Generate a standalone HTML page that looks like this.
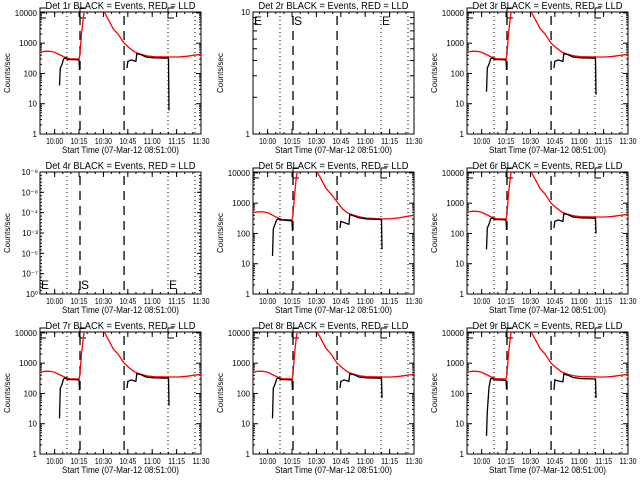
<!DOCTYPE html>
<html><head><meta charset="utf-8">
<style>
html,body{margin:0;padding:0;background:#fff;}
svg{display:block;font-family:"Liberation Sans",sans-serif;}
</style></head>
<body>
<svg id="c" width="640" height="480" viewBox="0 0 640 480"></svg>
<script>
// minutes since 09:51
const tickLabels = ["10:00","10:15","10:30","10:45","11:00","11:15","11:30"];
const tickMinutes = [9,24,39,54,69,84,99];
const dottedLines = [16.6,78.7,95.3];
const dashedLines = [24.6,51.7];
const detNames = ["1r","2r","3r","4r","5r","6r","7r","8r","9r"];
const redTimes = [0,3,6,9,12,15,18,24,24.5,25.5,26.5,27.5,null,39,42,45,48,51.7,55,58,62,66,70,80,85,90,95,99];
const redVals1 = [500,540,540,500,420,350,310,300,400,2000,6000,15000,null,12000,6000,3000,2000,1000,700,520,430,380,360,350,350,370,400,430];
const redVals5 = [480,520,520,480,400,330,290,280,380,1800,6000,15000,null,12000,6000,3000,2000,1100,650,480,400,350,320,300,310,330,370,400];
const blackTimes = [12,12.5,13.5,14.5,15.5,17,24,24.3,null,53.5,54,56,59,59.5,62,65,70,79,79.3];
const blackVals1 = [40,150,200,300,330,290,280,130,null,150,250,280,250,450,420,350,330,320,6];
const blackVals3 = [25,150,200,300,330,290,280,130,null,150,250,280,250,450,420,350,330,320,20];
const blackVals5 = [18,140,200,280,300,280,260,120,null,150,250,230,200,420,380,330,300,290,30];
const blackVals6 = [30,150,200,300,330,290,280,130,null,150,250,280,250,450,420,350,330,320,100];
const blackVals7 = [15,150,200,300,330,290,280,130,null,150,250,280,250,450,420,350,330,320,40];
const blackVals8 = [15,150,200,300,330,290,280,130,null,150,250,280,250,450,420,350,330,320,70];
const blackVals9 = [4,25,160,300,320,280,270,140,null,130,280,260,240,440,400,340,310,300,70];
const panelRed = [redVals1,null,redVals1,null,redVals5,redVals1,redVals1,redVals1,redVals1];
const panelBlack = [blackVals1,null,blackVals3,null,blackVals5,blackVals6,blackVals7,blackVals8,blackVals9];

const NS="http://www.w3.org/2000/svg";
const svg=document.getElementById('c');
function mk(tag,attrs,parent){const e=document.createElementNS(NS,tag);for(const k in attrs)e.setAttribute(k,attrs[k]);(parent||svg).appendChild(e);return e;}
const colX=[40,253,467], rowY=[12,172,332], W=161, H=122, TMAX=99;

detNames.forEach((dn,i)=>{
  const x0=colX[i%3], y0=rowY[Math.floor(i/3)];
  const g=mk('g',{});
  
  
  const xs=t=>x0+t/TMAX*W;
  let lo=0,hi=4.03,kind='data';
  if(i===1){lo=0;hi=1;kind='empty2';}
  if(i===3){lo=0;hi=1;kind='empty4';}
  const ys=v=>y0+H-(Math.log10(v)-lo)/(hi-lo)*H;
  const tt=mk('text',{x:x0+W/2,y:y0-3,'font-size':10,'text-anchor':'middle',textLength:150,lengthAdjust:'spacingAndGlyphs'},g);
  tt.textContent='Det '+dn+' BLACK = Events, RED = LLD';
  
  
  const yt=mk('text',{x:0,y:0,'font-size':8,'text-anchor':'middle',transform:`translate(${x0-30},${y0+H/2}) rotate(-90)`},g);
  yt.textContent='Counts/sec';
  
  
  const xt=mk('text',{x:x0+W/2,y:y0+H+19,'font-size':9,'text-anchor':'middle',textLength:117,lengthAdjust:'spacingAndGlyphs'},g);
  xt.textContent='Start Time (07-Mar-12 08:51:00)';
  
  
  mk('rect',{x:x0,y:y0,width:W,height:H,fill:'none',stroke:'#000','stroke-width':1},g);
  tickMinutes.forEach((t,k)=>{
    const x=xs(t);
    mk('line',{x1:x,x2:x,y1:y0+H,y2:y0+H-5,stroke:'#000'},g);
    mk('line',{x1:x,x2:x,y1:y0,y2:y0+5,stroke:'#000'},g);
    const l=mk('text',{x:x,y:y0+H+10,'font-size':8,'text-anchor':'middle',textLength:17,lengthAdjust:'spacingAndGlyphs'},g);
    l.textContent=tickLabels[k];
    
    
  });
  for(let t=4;t<=TMAX;t+=5){const x=xs(t);mk('line',{x1:x,x2:x,y1:y0+H,y2:y0+H-2,stroke:'#000'},g);mk('line',{x1:x,x2:x,y1:y0,y2:y0+2,stroke:'#000'},g);}
  if(kind==='data'){
    for(let d=0;d<=4;d++){
      const y=ys(Math.pow(10,d));
      mk('line',{x1:x0,x2:x0+5,y1:y,y2:y,stroke:'#000'},g);
      mk('line',{x1:x0+W,x2:x0+W-5,y1:y,y2:y,stroke:'#000'},g);
      const l=mk('text',{x:x0-3,y:y+3,'font-size':8,'text-anchor':'end'},g);
      l.textContent=String(Math.pow(10,d));
      
      
      if(d<4)for(let m=2;m<10;m++){const yy=ys(m*Math.pow(10,d));mk('line',{x1:x0,x2:x0+2,y1:yy,y2:yy,stroke:'#000'},g);mk('line',{x1:x0+W,x2:x0+W-2,y1:yy,y2:yy,stroke:'#000'},g);}
    }
  } else if(kind==='empty2'){
    [1,10].forEach(v=>{const y=ys(v);const l=mk('text',{x:x0-3,y:y+3,'font-size':8,'text-anchor':'end'},g);l.textContent=String(v);});
    for(let m=2;m<10;m++){const yy=ys(m);mk('line',{x1:x0,x2:x0+4,y1:yy,y2:yy,stroke:'#000'},g);mk('line',{x1:x0+W,x2:x0+W-4,y1:yy,y2:yy,stroke:'#000'},g);}
  } else {
    const labs=['10\u207B\u2078','10\u207B\u2078','10\u207B\u2074','10\u207B\u00B3','10\u207B\u2075','10\u207B\u2077','10\u2070'];
    labs.forEach((s,k)=>{const y=y0+k*H/6;const l=mk('text',{x:x0-2,y:y+3,'font-size':8,'text-anchor':'end'},g);l.textContent=s;
      mk('line',{x1:x0,x2:x0+4,y1:y,y2:y,stroke:'#000'},g);mk('line',{x1:x0+W,x2:x0+W-4,y1:y,y2:y,stroke:'#000'},g);});
    for(let k=0;k<=36;k++){const y=y0+k*H/36;mk('line',{x1:x0,x2:x0+2,y1:y,y2:y,stroke:'#000'},g);mk('line',{x1:x0+W,x2:x0+W-2,y1:y,y2:y,stroke:'#000'},g);}
  }
  dottedLines.forEach(t=>{const x=xs(t);const l=mk('line',{x1:x,x2:x,y1:y0,y2:y0+H,stroke:'#000','stroke-dasharray':'1,3'},g);});
  dashedLines.forEach(t=>{const x=xs(t);const l=mk('line',{x1:x,x2:x,y1:y0+4,y2:y0+H,stroke:'#000','stroke-dasharray':'9,6','stroke-width':1.3},g);});
  if(kind==='data'){
    [[0,'E'],[24.6,'S'],[78.7,'E']].forEach(([t,s])=>{const x=xs(t);mk('path',{d:`M${x+6} ${y0-4}H${x}V${y0+6}H${x+6}`,fill:'none',stroke:'#000'},g);});
  } else {
    const my=kind==='empty2'?y0+13:y0+H-5;
    [[0,'E'],[24.6,'S'],[78.7,'E']].forEach(([t,s])=>{const l=mk('text',{x:xs(t)+1,y:my,'font-size':12},g);l.textContent=s;});
  }
  if(panelRed[i]){
    const cp=mk('clipPath',{id:'cp'+i},g);mk('rect',{x:x0,y:y0,width:W,height:H},cp);
    const cg=mk('g',{'clip-path':`url(#cp${i})`},g);
    function series(times,vals,color,name){
      let d='',pen=false;
      times.forEach((t,k)=>{
        if(t===null||vals[k]===null){pen=false;return;}
        const v=Math.min(Math.max(vals[k],Math.pow(10,lo)),Math.pow(10,hi+0.5));
        d+=(pen?'L':'M')+xs(t).toFixed(1)+' '+ys(v).toFixed(1);pen=true;
      });
      const p=mk('path',{d:d,fill:'none',stroke:color,'stroke-width':1.3},cg);
      
      
    }
    series(redTimes,panelRed[i],'#f00','lld-red-line');
    series(blackTimes,panelBlack[i],'#000','events-black-line');
  }
});
</script>
</body></html>
